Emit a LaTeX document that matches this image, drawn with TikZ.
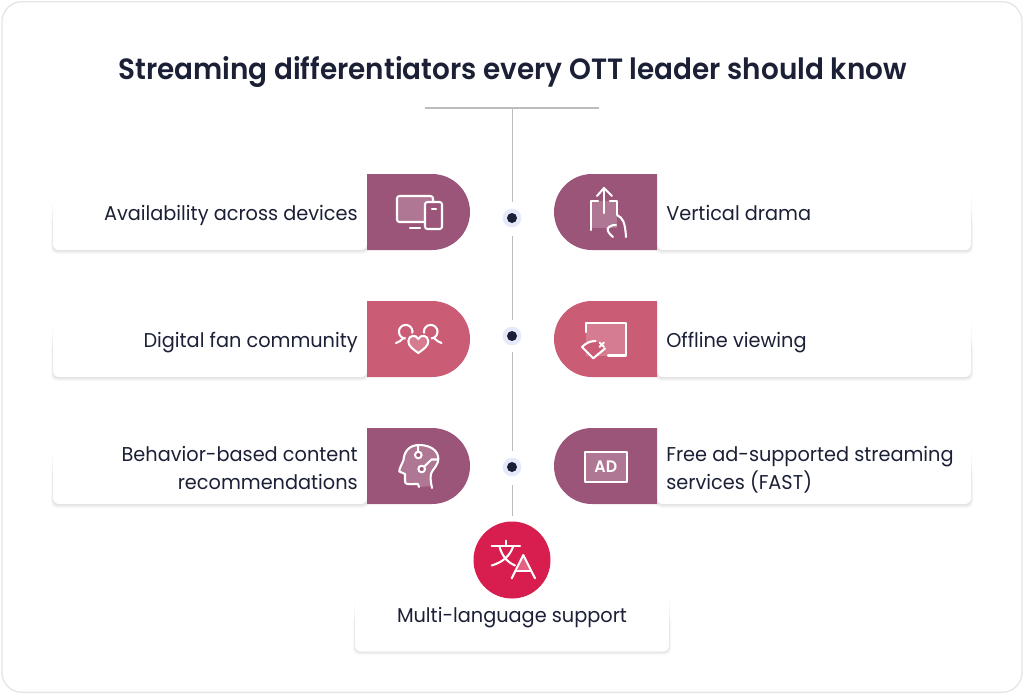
\documentclass[tikz,border=0pt]{standalone}
\usepackage{fontspec}
\setmainfont{Poppins}[BoldFont={Poppins SemiBold}]
\newfontfamily\bodyfont{Poppins}[FakeStretch=0.965]
\newfontfamily\headfont{Poppins SemiBold}[FakeStretch=0.95]
\definecolor{ink}{HTML}{1B2036}
\definecolor{plum}{HTML}{9B5578}
\definecolor{rose}{HTML}{CB5C75}
\definecolor{crimson}{HTML}{D81E4E}
\definecolor{frameline}{HTML}{E6E6E6}
\definecolor{spine}{HTML}{BDBDBD}
\definecolor{halo}{HTML}{E6E9FA}
\newcommand{\softshadow}[4]{% x1 y1 x2 y2
  \foreach \k in {0,1,2,3,4,5}{
    \fill[black,opacity=.022,rounded corners=4pt]
      ({#1-.5*\k+.5},{#2+2+8*\k}) rectangle ({#3+.5*\k-.5},{#4+.8*\k});
  }}
\tikzset{
  x=0.75pt,y=-0.75pt,
  cardbox/.style={fill=white,rounded corners=4.5pt,inner sep=0pt,minimum width=235.5pt,minimum height=57pt},
  lbl/.style={text=ink,font=\bodyfont\fontsize{15}{21}\selectfont,inner sep=0pt},
  lblL/.style={lbl,anchor=base east,align=right},
  lblR/.style={lbl,anchor=base west,align=left},
  ico/.style={draw=white,line width=1.55pt,line cap=round,line join=round},
  dotcore/.style={circle,fill=ink,inner sep=0pt,minimum size=7.5pt},
  dothalo/.style={circle,fill=halo,inner sep=0pt,minimum size=14pt},
  spineline/.style={draw=spine,line width=0.8pt},
}
\begin{document}
\begin{tikzpicture}
\useasboundingbox (0,0) rectangle (1024,694);
\fill[white] (0,0) rectangle (1024,694);
\node[draw=frameline,line width=1pt,fill=white,rounded corners=15pt,minimum width=765pt,minimum height=518pt,inner sep=0pt] (frame) at (512,347) {};
\node[text=ink,font=\headfont\fontsize{22}{28}\selectfont,inner sep=0pt,anchor=base] (title) at (512.5,79) {Streaming differentiators every OTT leader should know};

% spine
\coordinate (ruleL) at (425,108);
\coordinate (ruleR) at (599,108);
\coordinate (ruleM) at (512.5,108);
\coordinate (spineEnd) at (512.5,516);
\draw[spineline] (ruleL) -- (ruleR);
\node[dothalo] (h1) at (512,218) {};
\node[dotcore] (d1) at (512,218) {};
\node[dothalo] (h2) at (512,336) {};
\node[dotcore] (d2) at (512,336) {};
\node[dothalo] (h3) at (512,467) {};
\node[dotcore] (d3) at (512,467) {};
\draw[spineline,shorten >=12pt] (ruleM) -- (512.5,218);
\draw[spineline,shorten <=13.5pt,shorten >=12pt] (512.5,218) -- (512.5,336);
\draw[spineline,shorten <=12pt,shorten >=12pt] (512.5,336) -- (512.5,467);
\draw[spineline,shorten <=13.5pt] (512.5,467) -- (spineEnd);

% cards
\softshadow{53}{174}{367}{250}
\softshadow{657}{174}{971}{250}
\softshadow{53}{301}{367}{377}
\softshadow{657}{301}{971}{377}
\softshadow{53}{428}{367}{504}
\softshadow{657}{428}{971}{504}
\softshadow{355}{576}{669}{651}
\node[cardbox] (c1) at (210,212) {};
\node[cardbox] (c2) at (814,212) {};
\node[cardbox] (c3) at (210,339) {};
\node[cardbox] (c4) at (814,339) {};
\node[cardbox] (c5) at (210,466) {};
\node[cardbox] (c6) at (814,466) {};
\node[cardbox] (c7) at (512,613.5) {};

% pills
\fill[plum] (367,174) [rounded corners=28.5pt] -- (470,174) -- (470,250) [sharp corners] -- (367,250) -- cycle;
\fill[plum] (657,174) [rounded corners=28.5pt] -- (554,174) -- (554,250) [sharp corners] -- (657,250) -- cycle;
\fill[rose] (367,301) [rounded corners=28.5pt] -- (470,301) -- (470,377) [sharp corners] -- (367,377) -- cycle;
\fill[rose] (657,301) [rounded corners=28.5pt] -- (554,301) -- (554,377) [sharp corners] -- (657,377) -- cycle;
\fill[plum] (367,428) [rounded corners=28.5pt] -- (470,428) -- (470,504) [sharp corners] -- (367,504) -- cycle;
\fill[plum] (657,428) [rounded corners=28.5pt] -- (554,428) -- (554,504) [sharp corners] -- (657,504) -- cycle;
\node[circle,fill=crimson,inner sep=0pt,minimum size=57.75pt] (lang) at (512,560) {};

% labels
\node[lblL] (t1) at (358,220) {Availability across devices};
\node[lblR] (t2) at (666,220) {Vertical drama};
\node[lblL] (t3) at (358,347) {Digital fan community};
\node[lblR] (t4) at (666,347) {Offline viewing};
\node[lblL] (t5a) at (358,461) {Behavior-based content};
\node[lblL] (t5b) at (358,489) {recommendations};
\node[lblR] (t6a) at (666,461) {Free ad-supported streaming};
\node[lblR] (t6b) at (666,489) {services (FAST)};
\node[lbl,anchor=base] (t7) at (512,622) {Multi-language support};

% icon: devices
\fill[white,opacity=.2] (397,196) rectangle (433,222);
\draw[ico,rounded corners=1.8pt] (425,222) -- (397,222) -- (397,196) -- (433,196) -- (433,202);
\draw[ico] (410,228) -- (420,228);
\draw[ico,rounded corners=1.8pt,fill=plum] (425,202) rectangle (442,229);
\draw[ico] (432,209) -- (436,209);

% icon: vertical swipe
\fill[white,opacity=.2] (591,201) rectangle (617,228);
\draw[ico] (598,201) -- (591,201) -- (591,230);
\draw[ico] (610,201) -- (617,201) -- (617,214);
\draw[ico] (604,213) -- (604,188);
\draw[ico] (597,196) -- (604,188) -- (612,196);
\draw[ico] (617,215) .. controls (623,218) and (625,222) .. (626,237);
\draw[ico] (613,237) .. controls (608,233) and (606,229) .. (609,227) .. controls (611,225) and (614,225) .. (616,225);

% icon: fan community
\draw[ico] (405.7,331.7) circle[radius=6.8];
\draw[ico] (430.7,331.7) circle[radius=6.8];
\draw[ico] (396,343) .. controls (399,342) and (401,340.5) .. (403,338.5);
\draw[ico] (441.5,343) .. controls (438.5,342) and (436.5,340.5) .. (434.5,338.5);
\path[fill=rose] (418.3,355) .. controls (413,350) and (405,346) .. (405.3,341) .. controls (405.6,332) and (416,331) .. (418.3,336) .. controls (420.6,331) and (431,332) .. (431.3,341) .. controls (431.6,346) and (423.6,350) .. (418.3,355) -- cycle;
\draw[ico,fill=white,fill opacity=.2,draw opacity=1] (418.3,353) .. controls (413,349) and (408,346) .. (408.3,341) .. controls (408.6,335) and (416,334) .. (418.3,339) .. controls (420.6,334) and (428,335) .. (428.3,341) .. controls (428.6,346) and (423.6,349) .. (418.3,353) -- cycle;

% icon: offline
\fill[white,opacity=.2] (586,323) rectangle (626,355.5);
\draw[ico] (586,332) -- (586,323) -- (626,323) -- (626,355.5) -- (608,355.5);
\path[fill=rose] (582,347) -- (593,358) -- (604,349) -- (600,342) -- (590,342) -- cycle;
\draw[ico] (582,347) .. controls (586,343) and (590,341) .. (595.5,341);
\draw[ico] (582,347) -- (593.3,358.3) -- (605,348.5);
\draw[ico] (599.5,342.5) -- (604,347);
\draw[ico] (604,342.5) -- (599.5,347);

% icon: head
\fill[white,opacity=.2] (431.5,486) .. controls (430,478) and (430,474) .. (433,470) .. controls (438,464) and (439,460) .. (438,456) .. controls (436,448) and (427,445) .. (419,445) .. controls (409,445) and (404,452) .. (403.5,460) .. controls (402,464) and (399,469) .. (399.3,471.5) -- (405,474) -- (405,481) .. controls (405,484) and (407,484.5) .. (418.5,484.5) -- (419,487) -- cycle;
\draw[ico] (432,488) .. controls (430,478) and (430,474) .. (433,470) .. controls (438,464) and (439,460) .. (438,456) .. controls (436,448) and (427,445) .. (419,445) .. controls (409,445) and (404,452) .. (403.5,460) .. controls (402,464) and (399,469) .. (399.3,471.5) -- (405,474) -- (405,481) .. controls (405,484) and (407,484.5) .. (414,484) -- (418,484) -- (419,487);
\draw[ico] (418.3,451.5) -- (418.3,446);
\draw[ico,fill=plum] (418.3,455) circle[radius=3.3];
\draw[ico,fill=plum] (421.7,469) circle[radius=3.3];
\draw[ico] (424.3,466.5) -- (431.5,459.5) -- (437,459.5);

% icon: ad
\draw[ico,fill=white,fill opacity=.2,draw opacity=1] (585,451.7) rectangle (626.7,481.7);
\node[text=white,font=\headfont\fontsize{12.5}{14}\selectfont,inner sep=0pt] (adtxt) at (605.8,467) {AD};

% icon: translate
\draw[ico] (491.7,546) -- (520,546);
\draw[ico] (505.7,540.7) -- (505.7,546);
\draw[ico] (499.3,546) .. controls (502,556) and (507,562) .. (515,565.5);
\draw[ico] (513.3,546) .. controls (510,556) and (503,562) .. (491.7,565.5);
\fill[crimson] (523.3,553) -- (510,580) -- (537,580) -- cycle;
\fill[white,opacity=.3] (523.3,555) -- (517,571) -- (530,571) -- cycle;
\draw[ico] (511.7,578.3) -- (523.3,555) -- (535,578.3);
\draw[ico] (515.7,571) -- (530.7,571);
\end{tikzpicture}
\end{document}
